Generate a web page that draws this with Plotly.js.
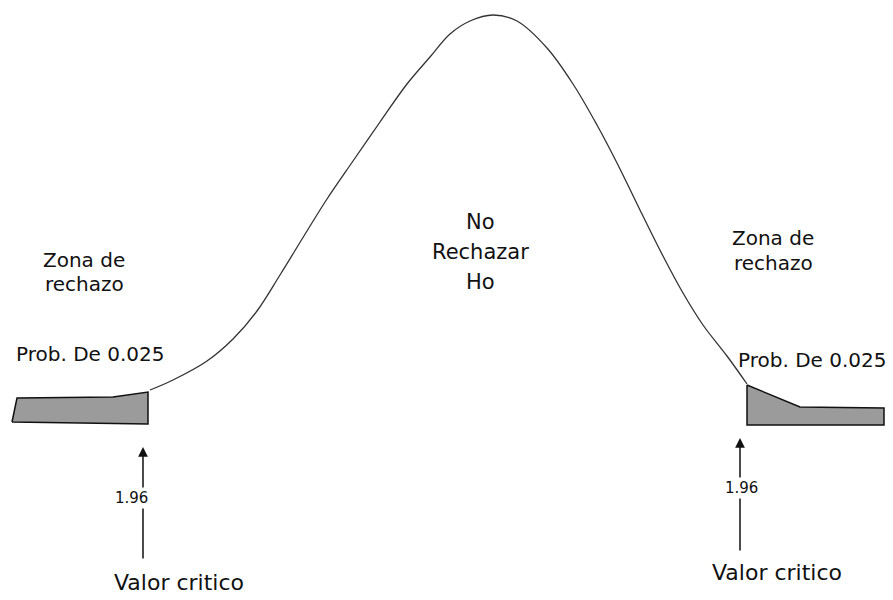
<!DOCTYPE html>
<html>
<head>
<meta charset="utf-8">
<script src="https://cdn.plot.ly/plotly-3.0.1.min.js"></script>
<style>
  html, body { margin: 0; padding: 0; background: #fff; }
  #chart { width: 893px; height: 600px; }
</style>
</head>
<body>
<div id="chart"></div>
<script>
// curva normal (pixeles)
const curveX = [150, 173, 207, 233, 257, 280, 307, 327, 353, 380, 407, 430, 450, 470, 493,
                517, 547, 573, 597, 617, 640, 663, 683, 703, 727, 747];
const curveY = [390, 380, 361, 339, 311, 275, 231, 199, 161, 122, 84, 57, 34, 21, 15,
                21, 48, 84, 125, 163, 210, 256, 293, 325, 356, 384];

// zonas de rechazo (colas sombreadas)
const tailLeftX = [12, 17, 113, 148, 148, 12];
const tailLeftY = [422, 398, 397, 392, 424, 422];
const tailRightX = [747, 800, 884, 884, 747, 747];
const tailRightY = [385, 407, 408, 425, 425, 385];

// flechas de valor critico: [x, punta, cola]
const arrowLeft = [143, 447, 560];
const arrowRight = [740, 438, 552];

const zoneLines = ['Zona de', 'rechazo'];
const centerLines = ['No', 'Rechazar', 'Ho'];
const probText = 'Prob. De 0.025';
const critValue = '1.96';
const critText = 'Valor critico';

const baseFont = { family: 'DejaVu Sans, Verdana, sans-serif', color: '#111' };
function f(size) { return Object.assign({ size: size }, baseFont); }

const traces = [
  {
    x: tailLeftX, y: tailLeftY, type: 'scatter', mode: 'lines',
    fill: 'toself', fillcolor: '#9b9b9b',
    line: { color: '#111', width: 1.5 }, hoverinfo: 'skip'
  },
  {
    x: tailRightX, y: tailRightY, type: 'scatter', mode: 'lines',
    fill: 'toself', fillcolor: '#9b9b9b',
    line: { color: '#111', width: 1.5 }, hoverinfo: 'skip'
  },
  {
    x: curveX, y: curveY, type: 'scatter', mode: 'lines',
    line: { color: '#333', width: 1.3, shape: 'spline', smoothing: 1 }, hoverinfo: 'skip'
  }
];

function arrow(a) {
  return {
    x: a[0], y: a[1], ax: a[0], ay: a[2], axref: 'x', ayref: 'y',
    xref: 'x', yref: 'y', text: '', showarrow: true,
    arrowhead: 2, arrowsize: 1.3, arrowwidth: 1.5, arrowcolor: '#111'
  };
}

function label(x, y, text, size, extra) {
  return Object.assign({
    x: x, y: y, xref: 'x', yref: 'y', text: text, showarrow: false,
    font: f(size), align: 'center'
  }, extra || {});
}

const annotations = [
  arrow(arrowLeft),
  arrow(arrowRight),
  label(84, 260, zoneLines[0], 20),
  label(84, 284, zoneLines[1], 20),
  label(773, 238, zoneLines[0], 20),
  label(773, 263, zoneLines[1], 20),
  label(480, 222, centerLines[0], 21),
  label(480, 252, centerLines[1], 21),
  label(480, 282, centerLines[2], 21),
  label(90, 354, probText, 20),
  label(812, 360, probText, 20),
  label(131, 498, critValue, 15, { bgcolor: '#fff' }),
  label(741, 488, critValue, 15, { bgcolor: '#fff' }),
  label(179, 582, critText, 22),
  label(777, 572, critText, 22)
];

const layout = {
  width: 893, height: 600,
  margin: { l: 0, r: 0, t: 0, b: 0 },
  paper_bgcolor: '#fff', plot_bgcolor: '#fff',
  showlegend: false,
  xaxis: { range: [0, 893], visible: false, fixedrange: true },
  yaxis: { range: [600, 0], visible: false, fixedrange: true },
  annotations: annotations
};

Plotly.newPlot('chart', traces, layout, { displayModeBar: false, staticPlot: true });
</script>
</body>
</html>
